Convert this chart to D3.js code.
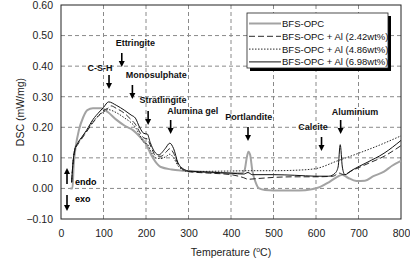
<!DOCTYPE html>
<html>
<head>
<meta charset="utf-8">
<script src="https://cdn.jsdelivr.net/npm/d3@7"></script>
<style>
  body { margin: 0; background: #fff; }
  text { font-family: "Liberation Sans", Arial, sans-serif; }
</style>
</head>
<body>
<div id="chart"></div>
<script>
// temperature (C), DSC (mW/mg)
var bfsOpc = [[22,0],[27,0],[30,0.08],[35,0.14],[42,0.19],[52,0.232],[62,0.256],[75,0.262],[95,0.262],
  [110,0.25],[130,0.225],[150,0.205],[170,0.19],[185,0.17],[200,0.145],[212,0.11],[222,0.088],[235,0.07],
  [260,0.062],[290,0.058],[320,0.055],[360,0.052],[400,0.05],[425,0.05],[432,0.06],[437,0.1],[441,0.12],
  [445,0.11],[450,0.06],[458,0.02],[466,0],[480,-0.005],[520,-0.007],[560,-0.007],[590,-0.003],[610,0.005],
  [630,0.02],[650,0.038],[662,0.045],[675,0.035],[695,0.024],[715,0.025],[735,0.04],[760,0.055],[780,0.075],[800,0.09]];

var al242 = [[25,0.02],[28,0.08],[32,0.12],[40,0.145],[50,0.165],[60,0.185],[75,0.215],[90,0.24],[100,0.255],
  [110,0.262],[118,0.27],[130,0.262],[150,0.245],[165,0.225],[175,0.21],[185,0.185],[195,0.165],[203,0.162],
  [212,0.135],[222,0.108],[235,0.105],[248,0.12],[256,0.13],[265,0.115],[275,0.08],[290,0.06],[300,0.055],
  [350,0.05],[400,0.045],[430,0.035],[440,0.03],[460,0.032],[500,0.036],[550,0.038],[600,0.038],[640,0.04],
  [655,0.05],[665,0.045],[680,0.055],[720,0.08],[760,0.105],[800,0.14]];

var al486 = [[25,0.02],[28,0.08],[32,0.125],[40,0.148],[50,0.168],[60,0.188],[75,0.218],[90,0.24],[100,0.25],
  [110,0.258],[130,0.248],[150,0.23],[165,0.215],[175,0.2],[185,0.175],[195,0.15],[203,0.145],[212,0.12],
  [222,0.1],[235,0.098],[248,0.105],[256,0.112],[265,0.1],[275,0.075],[290,0.058],[300,0.055],[350,0.056],
  [400,0.057],[450,0.058],[500,0.058],[560,0.06],[600,0.065],[650,0.09],[700,0.115],[750,0.142],[800,0.172]];

var al698 = [[25,0.02],[28,0.08],[32,0.125],[40,0.15],[50,0.17],[60,0.19],[75,0.225],[90,0.25],[100,0.265],
  [112,0.283],[130,0.272],[150,0.255],[165,0.24],[175,0.23],[185,0.2],[195,0.18],[203,0.178],[210,0.15],
  [220,0.12],[230,0.11],[245,0.13],[256,0.148],[265,0.13],[275,0.085],[290,0.062],[300,0.057],[350,0.053],
  [400,0.05],[430,0.047],[440,0.052],[450,0.045],[500,0.045],[550,0.043],[600,0.04],[630,0.04],[645,0.05],
  [652,0.07],[657,0.143],[662,0.07],[668,0.045],[685,0.06],[720,0.085],[760,0.115],[800,0.157]];

var seriesNames = ["BFS-OPC", "BFS-OPC + Al (2.42wt%)", "BFS-OPC + Al (4.86wt%)", "BFS-OPC + Al (6.98wt%)"];
var xTicks = [0,100,200,300,400,500,600,700,800];
var yTicks = [-0.1,0,0.1,0.2,0.3,0.4,0.5,0.6];

// peak labels, arrow temperature, label centre (temperature, value)
var peakLabels = ["C-S-H","Ettringite","Monosulphate","Stratlingite","Alumina gel","Portlandite","Calcite","Aluminium"];
var peakTemps = [113, 143, 168, 205, 258, 440, 613, 658];
var peakTextX = [92, 175, 224, 240, 310, 442, 593, 692];
var peakTextY = [0.384, 0.466, 0.36, 0.28, 0.244, 0.225, 0.19, 0.24];

var W = 410, H = 263;
var m = {left: 61, right: 9, top: 5, bottom: 44};

var svg = d3.select("#chart").append("svg").attr("width", W).attr("height", H);

var x = d3.scaleLinear().domain([0, 800]).range([m.left, W - m.right]);
var y = d3.scaleLinear().domain([-0.1, 0.6]).range([H - m.bottom, m.top]);

// grid
svg.append("g").selectAll("line").data(xTicks.slice(1, -1)).enter().append("line")
  .attr("x1", d => x(d)).attr("x2", d => x(d)).attr("y1", y(0.6)).attr("y2", y(-0.1))
  .attr("stroke", "#8a8a8a").attr("stroke-dasharray", "4,3");
svg.append("g").selectAll("line").data(yTicks.slice(1, -1)).enter().append("line")
  .attr("x1", x(0)).attr("x2", x(800)).attr("y1", d => y(d)).attr("y2", d => y(d))
  .attr("stroke", "#8a8a8a").attr("stroke-dasharray", "4,3");

// axes
var xAxis = svg.append("g").attr("transform", "translate(0," + y(-0.1) + ")")
  .call(d3.axisBottom(x).tickValues(xTicks).tickSize(0).tickPadding(11));
var yAxis = svg.append("g").attr("transform", "translate(" + x(0) + ",0)")
  .call(d3.axisLeft(y).tickValues(yTicks).tickFormat(d3.format(".2f")).tickSize(0).tickPadding(8));
[xAxis, yAxis].forEach(function(a) {
  a.select(".domain").remove();
  a.selectAll("text").style("font-size", "10.5px").attr("fill", "#222");
});

svg.append("rect").attr("x", x(0)).attr("y", y(0.6))
  .attr("width", x(800) - x(0)).attr("height", y(-0.1) - y(0.6))
  .attr("fill", "none").attr("stroke", "#222").attr("stroke-width", 1);

// titles
var xt = svg.append("text").attr("x", 231).attr("y", 256).attr("text-anchor", "middle")
  .style("font-size", "10.5px").attr("fill", "#222");
xt.append("tspan").text("Temperature (");
xt.append("tspan").text("o").attr("dy", -4).style("font-size", "7px");
xt.append("tspan").text("C)").attr("dy", 4);

svg.append("text").attr("transform", "translate(24," + ((y(0.6) + y(-0.1)) / 2) + ") rotate(-90)")
  .attr("text-anchor", "middle").style("font-size", "10.5px").attr("fill", "#222").text("DSC (mW/mg)");

// curves
var line = d3.line().x(d => x(d[0])).y(d => y(d[1])).curve(d3.curveMonotoneX);
var styles = [
  {data: bfsOpc, color: "#a3a3a3", width: 2, dash: null},
  {data: al242, color: "#111", width: 0.9, dash: "6,3"},
  {data: al486, color: "#111", width: 0.9, dash: "1.5,1.5"},
  {data: al698, color: "#111", width: 1, dash: null}
];
styles.forEach(function(s) {
  svg.append("path").datum(s.data).attr("d", line).attr("fill", "none")
    .attr("stroke", s.color).attr("stroke-width", s.width).attr("stroke-dasharray", s.dash);
});

// arrows
function arrow(px, y1, y2) {
  var dir = y2 > y1 ? 1 : -1;
  svg.append("line").attr("x1", px).attr("x2", px).attr("y1", y1).attr("y2", y2 - dir * 5)
    .attr("stroke", "#000").attr("stroke-width", 1.6);
  svg.append("path").attr("d", "M" + (px - 3) + "," + (y2 - dir * 6) + "L" + (px + 3) + "," + (y2 - dir * 6) + "L" + px + "," + y2 + "Z")
    .attr("fill", "#000");
}

var arrowTop = [75, 53, 85, 111, 120, 127, 137, 120];
var arrowLen = 11;
peakLabels.forEach(function(lab, i) {
  svg.append("text").attr("x", x(peakTextX[i])).attr("y", y(peakTextY[i]))
    .attr("text-anchor", "middle").style("font-size", "9px").style("font-weight", "bold")
    .attr("fill", "#111").text(lab);
  arrow(x(peakTemps[i]), arrowTop[i], arrowTop[i] + arrowLen + 3);
});

arrow(67, 184, 168);
arrow(67, 195, 211);
svg.append("text").attr("x", 75).attr("y", 185).style("font-size", "9px").style("font-weight", "bold").text("endo");
svg.append("text").attr("x", 75).attr("y", 202).style("font-size", "9px").style("font-weight", "bold").text("exo");

// legend
var lg = svg.append("g").attr("transform", "translate(247,13)");
lg.append("rect").attr("x", 3).attr("y", 3).attr("width", 141).attr("height", 55).attr("fill", "#000");
lg.append("rect").attr("x", 0).attr("y", 0).attr("width", 141).attr("height", 55)
  .attr("fill", "#fff").attr("stroke", "#222").attr("stroke-width", 0.8);
seriesNames.forEach(function(n, i) {
  var yy = 10.5 + i * 12.8;
  lg.append("line").attr("x1", 2).attr("x2", 34).attr("y1", yy).attr("y2", yy)
    .attr("stroke", styles[i].color).attr("stroke-width", styles[i].width)
    .attr("stroke-dasharray", styles[i].dash);
  lg.append("text").attr("x", 35).attr("y", yy + 3.5).style("font-size", "9.5px").attr("fill", "#111").text(n);
});
</script>
</body>
</html>
